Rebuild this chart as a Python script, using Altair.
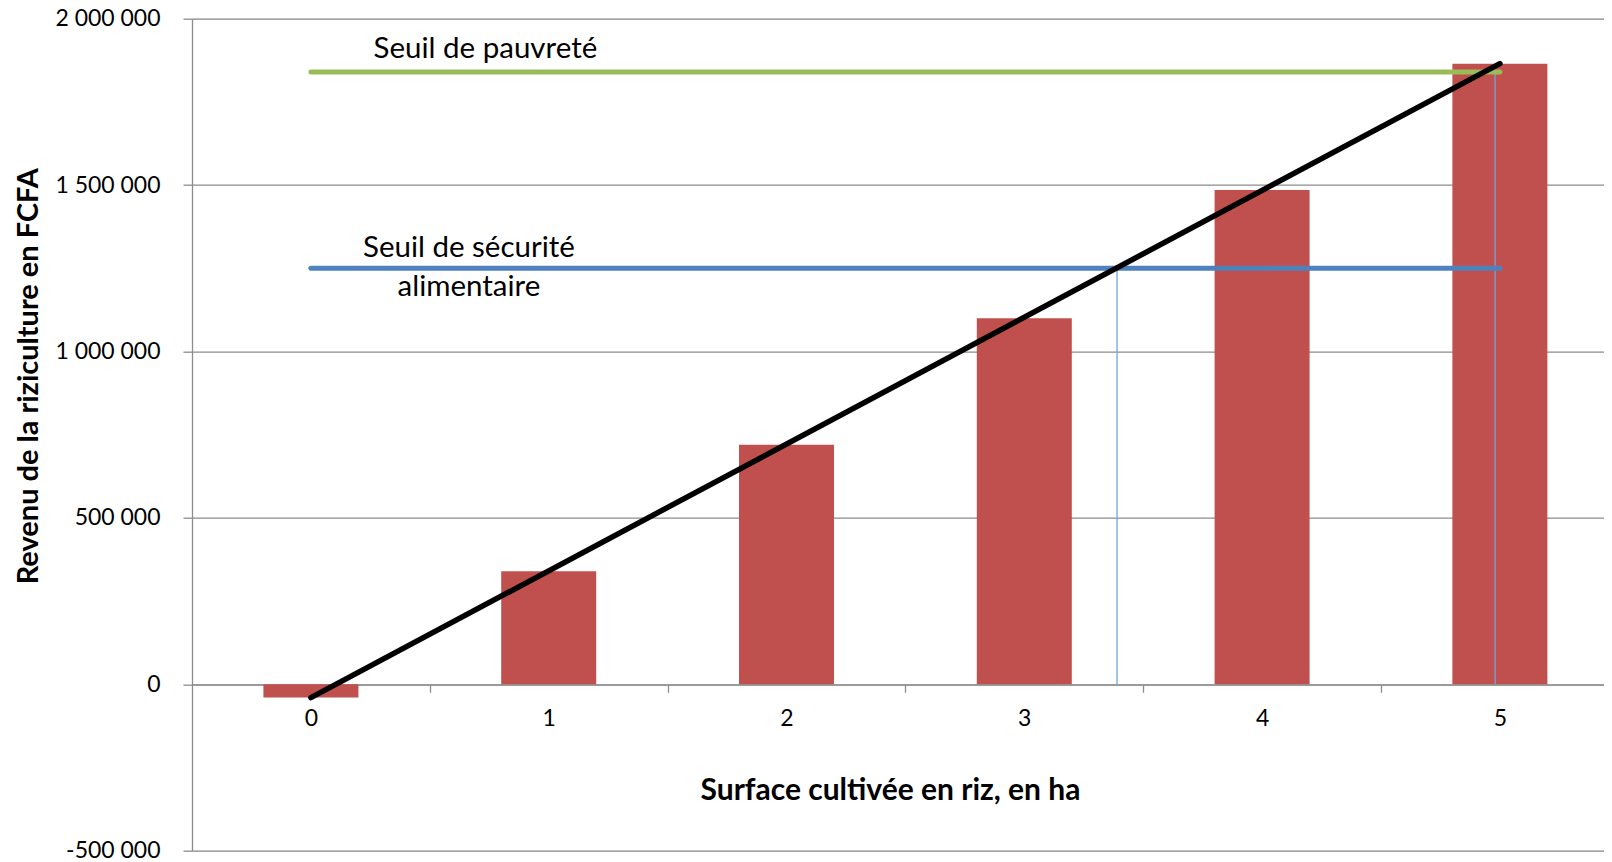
import altair as alt
import pandas as pd

# --- data ---
surfaces = [0, 1, 2, 3, 4, 5]
revenus = [-40000, 340000, 720000, 1100000, 1485000, 1865000]
seuil_noms = ["Seuil de pauvreté", "Seuil de sécurité\nalimentaire"]
seuil_valeurs = [1840000, 1250000]
seuil_couleurs = ["#9BBB59", "#4F81BD"]
repere_x = [3.39, 4.98]
repere_haut = [1250000, 1840000]
y_ticks = [-500000, 0, 500000, 1000000, 1500000, 2000000]
x_titre = "Surface cultivée en riz, en ha"
y_titre = "Revenu de la riziculture en FCFA"

# --- layout ---
W, H = 1412, 832
UNIT = 237.8  # px per hectare
Y_MIN, Y_MAX = -500000, 2000000
GRAY = "#8C8C8C"
FONT = "Lato"

x_scale = alt.Scale(domain=[-0.5, -0.5 + W / UNIT], nice=False, zero=False, padding=0)
y_scale = alt.Scale(domain=[Y_MIN, Y_MAX], nice=False, zero=False, padding=0)
zero_offset = -H * (0 - Y_MIN) / (Y_MAX - Y_MIN)

bars_df = pd.DataFrame({"surface": surfaces, "revenu": revenus})
seuil_df = pd.DataFrame({
    "nom": seuil_noms, "valeur": seuil_valeurs, "couleur": seuil_couleurs,
    "x0": [surfaces[0]] * 2, "x1": [surfaces[-1]] * 2,
})
rep_df = pd.DataFrame({"x": repere_x, "haut": repere_haut, "bas": [0, 0]})
trend_df = bars_df.iloc[[0, -1]]

x_axis = alt.Axis(
    values=surfaces, format="d", title=x_titre,
    offset=zero_offset, tickOffset=UNIT / 2, labelOffset=-UNIT / 2,
    tickSize=8, tickColor=GRAY, tickWidth=1.3, domainColor=GRAY, domainWidth=1.3,
    labelFontSize=23, labelPadding=15, labelColor="black", labelFont=FONT,
    grid=False, titleFont=FONT, titleFontSize=30, titleFontWeight="bold",
    titleColor="black", titleBaseline="alphabetic", titleY=115.7, titleX=W / 2 - 8,
)
y_axis = alt.Axis(
    values=y_ticks, title=y_titre,
    labelExpr="(datum.value < 0 ? '-' : '') + replace(format(abs(datum.value), ','), /,/g, ' ')",
    tickSize=9, tickColor=GRAY, tickWidth=1.3, domainColor=GRAY, domainWidth=1.3,
    grid=True, gridColor=GRAY, gridWidth=1.3,
    labelFontSize=23, labelPadding=23, labelColor="black", labelFont=FONT,
    titleFont=FONT, titleFontSize=29, titleFontWeight="bold", titleColor="black",
    titleBaseline="alphabetic", titleAlign="center", titleAngle=-90,
    titleX=-155, titleY=357,
)

bars = alt.Chart(bars_df).mark_bar(color="#C0504D", size=95, orient="vertical").encode(
    x=alt.X("surface:Q", scale=x_scale, axis=x_axis),
    y=alt.Y("revenu:Q", scale=y_scale, axis=y_axis),
    y2=alt.Y2(datum=0),
)

reperes = alt.Chart(rep_df).mark_rule(color="#6FA3DA", strokeWidth=1.3).encode(
    x="x:Q", y="bas:Q", y2="haut:Q",
)

seuils = alt.Chart(seuil_df).mark_rule(strokeWidth=5, strokeCap="round").encode(
    x="x0:Q", x2="x1:Q", y="valeur:Q",
    color=alt.Color("couleur:N", scale=None),
)

txt_pauv = alt.Chart(seuil_df.iloc[[0]]).mark_text(
    align="center", baseline="alphabetic", dx=174.5, dy=-14.4,
    fontSize=29.5, font=FONT, color="black",
).encode(x="x0:Q", y="valeur:Q", text="nom:N")

txt_secu = alt.Chart(seuil_df.iloc[[1]]).mark_text(
    align="center", baseline="alphabetic", dx=158, dy=-11,
    fontSize=29.5, font=FONT, color="black", lineBreak="\n", lineHeight=39,
).encode(x="x0:Q", y="valeur:Q", text="nom:N")

trend = alt.Chart(trend_df).mark_line(color="black", strokeWidth=5.5, strokeCap="round").encode(
    x="surface:Q", y="revenu:Q",
)

chart = alt.layer(bars, reperes, seuils, txt_pauv, txt_secu, trend).properties(
    width=W, height=H,
    padding={"left": 184, "top": 10.7, "right": 0, "bottom": 12},
    autosize=alt.AutoSizeParams(type="none"),
).configure_view(stroke=None).configure(font=FONT)

chart.save("out.html", embed_options={"renderer": "svg", "actions": False})
